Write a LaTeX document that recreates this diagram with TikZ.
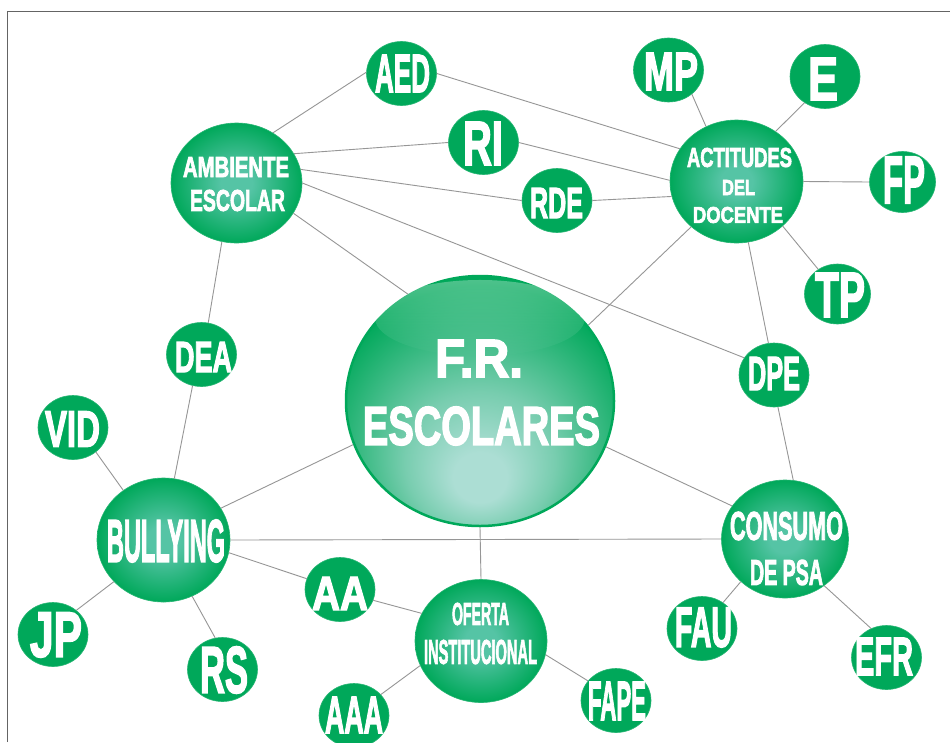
\documentclass[tikz,border=0pt]{standalone}
\usepackage{graphicx}
\usepackage{fontspec}
\newfontfamily\labfont{Liberation Sans Bold}[FakeBold=3]
\usetikzlibrary{shapes.geometric,fadings}
\definecolor{grn}{RGB}{0,168,90}
\definecolor{lite}{RGB}{85,196,165}
\definecolor{pale}{RGB}{172,222,212}
\definecolor{mint}{RGB}{120,205,175}
\definecolor{edgec}{RGB}{150,150,150}
\definecolor{framec}{RGB}{100,100,100}
\pgfdeclareradialshading{nodeshade}{\pgfpoint{0bp}{0bp}}{color(0bp)=(lite);color(6bp)=(lite);color(25bp)=(grn);color(50bp)=(grn)}
\pgfdeclareradialshading{ballshade}{\pgfpoint{0bp}{-17bp}}{color(0bp)=(pale);color(5bp)=(pale);color(14bp)=(mint);color(30bp)=(grn);color(50bp)=(grn)}
\newcommand\lb[3]{\resizebox{#1pt}{#2pt}{\labfont #3}}
\tikzset{
  sn/.style={ellipse, fill=grn, draw=grn!85!white, line width=0.6pt, minimum width=70pt, minimum height=64pt, inner sep=0pt},
  bn/.style={ellipse, shading=nodeshade, draw=grn!85!white, line width=0.6pt, minimum width=132pt, minimum height=122pt, inner sep=0pt},
  tx/.style={inner sep=0pt, text=white},
  ln/.style={draw=edgec, line width=0.9pt},
}
\begin{document}
\begin{tikzpicture}[x=1pt,y=-1pt]
\useasboundingbox (0,0) rectangle (950,742);
\fill[white] (0,0) rectangle (950,742);
\draw[framec, line width=1.5pt] (7.5,742) -- (7.5,11.5) -- (950,11.5);

% central ball
\node[ellipse, shading=ballshade, draw=grn, line width=2.5pt, minimum width=268pt, minimum height=250pt, inner sep=0pt] (C) at (480,401) {};
\fill[white, opacity=0.3, path fading=south] (480,318) ellipse (105 and 38);
\node[tx] (tC1) at (479,358.5) {\lb{88}{37}{F.R.}};
\node[tx] (tC2) at (481.5,426) {\lb{237}{38}{ESCOLARES}};

% big nodes
\node[bn, minimum width=131pt, minimum height=120pt] (AMB) at (236.5,183) {};
\node[tx] (tAMB1) at (236,167) {\lb{106}{20}{AMBIENTE}};
\node[tx] (tAMB2) at (237.5,200.5) {\lb{95}{21}{ESCOLAR}};

\node[bn, minimum width=133pt, minimum height=123pt] (ACT) at (736.5,181.5) {};
\node[tx] (tACT1) at (739.5,157.5) {\lb{105}{19}{ACTITUDES}};
\node[tx] (tACT2) at (738.5,187.5) {\lb{33}{15}{DEL}};
\node[tx] (tACT3) at (738,215) {\lb{90}{16}{DOCENTE}};

\node[bn, minimum width=133pt, minimum height=124pt] (BUL) at (163.5,540) {};
\node[tx] (tBUL) at (166,541) {\lb{118}{42}{BULLYING}};

\node[bn, minimum width=127pt, minimum height=118pt] (CON) at (785,539) {};
\node[tx] (tCON1) at (786.5,526) {\lb{113}{28}{CONSUMO}};
\node[tx] (tCON2) at (786.5,572.5) {\lb{73}{25}{DE PSA}};

\node[bn, minimum width=132pt, minimum height=123pt] (OFE) at (481,641) {};
\node[tx] (tOFE1) at (480.5,614) {\lb{57}{22}{OFERTA}};
\node[tx] (tOFE2) at (480.5,652) {\lb{113}{24}{INSTITUCIONAL}};

% small nodes
\node[sn] (AED) at (401.5,73.5) {};
\node[tx] (tAED) at (402.5,73.5) {\lb{55}{37}{AED}};
\node[sn] (RI) at (483.5,142.5) {};
\node[tx] (tRI) at (483,143.5) {\lb{40}{43}{RI}};
\node[sn] (RDE) at (557,200.5) {};
\node[tx] (tRDE) at (556.5,203) {\lb{53}{30}{RDE}};
\node[sn] (MP) at (668.5,70) {};
\node[tx] (tMP) at (671,71.5) {\lb{54}{37}{MP}};
\node[sn] (E) at (825,76.5) {};
\node[tx] (tE) at (823,79) {\lb{30}{42}{E}};
\node[sn, minimum width=66pt, minimum height=61pt] (FP) at (902.5,182) {};
\node[tx] (tFP) at (904,180) {\lb{42}{46}{FP}};
\node[sn, minimum width=66pt, minimum height=60pt] (TP) at (837.5,294) {};
\node[tx] (tTP) at (840,295) {\lb{50}{44}{TP}};
\node[sn] (DPE) at (774,375) {};
\node[tx] (tDPE) at (774,373.5) {\lb{52}{33}{DPE}};
\node[sn] (DEA) at (201.5,354.5) {};
\node[tx] (tDEA) at (203.5,357) {\lb{57}{30}{DEA}};
\node[sn] (VID) at (73,427.5) {};
\node[tx] (tVID) at (72.5,429) {\lb{55}{35}{VID}};
\node[sn] (JP) at (53,634.5) {};
\node[tx] (tJP) at (56,635) {\lb{52}{44}{JP}};
\node[sn] (RS) at (222.5,669.5) {};
\node[tx] (tRS) at (224,670) {\lb{48}{46}{RS}};
\node[sn] (AA) at (340,589.5) {};
\node[tx] (tAA) at (340,593.5) {\lb{56}{33}{AA}};
\node[sn] (AAA) at (354,715.5) {};
\node[tx] (tAAA) at (354,715) {\lb{58}{36}{AAA}};
\node[sn] (FAPE) at (616,700.5) {};
\node[tx] (tFAPE) at (617,701) {\lb{58}{38}{FAPE}};
\node[sn] (FAU) at (702,628.5) {};
\node[tx] (tFAU) at (703.5,627.5) {\lb{57}{39}{FAU}};
\node[sn] (EFR) at (886.5,657.5) {};
\node[tx] (tEFR) at (884,656.5) {\lb{58}{37}{EFR}};

% connectors
\draw[ln] (AMB.54) -- (AED.178);
\draw[ln] (AED.0) -- (ACT.150);
\draw[ln] (AMB.27) -- (RI.180);
\draw[ln] (RI.0) -- (ACT.179);
\draw[ln] (AMB.12) -- (RDE.180);
\draw[ln] (RDE.0) -- (ACT.193);
\draw[ln] (AMB.0) -- (DPE.150);
\draw[ln] (AMB.-28) -- (C.124);
\draw[ln] (AMB.256) -- (DEA.78);
\draw[ln] (DEA.254) -- (BUL.80);
\draw[ln] (ACT.119) -- (MP.314);
\draw[ln] (ACT.52) -- (E.232);
\draw[ln] (ACT.0) -- (FP.180);
\draw[ln] (ACT.-44) -- (TP.128);
\draw[ln] (ACT.281) -- (DPE.100);
\draw[ln] (ACT.225) -- (C.35);
\draw[ln] (DPE.277) -- (CON.82);
\draw[ln] (C.-20) -- (CON.148);
\draw[ln] (BUL.0) -- (CON.180);
\draw[ln] (C.-90) -- (OFE.90);
\draw[ln] (BUL.29) -- (C.199);
\draw[ln] (BUL.129) -- (VID.313);
\draw[ln] (BUL.220) -- (JP.46);
\draw[ln] (BUL.297) -- (RS.103);
\draw[ln] (BUL.-11) -- (AA.162);
\draw[ln] (AA.-18) -- (OFE.155);
\draw[ln] (OFE.202) -- (AAA.38);
\draw[ln] (OFE.-12) -- (FAPE.145);
\draw[ln] (CON.224) -- (FAU.51);
\draw[ln] (CON.-50) -- (EFR.118);
\end{tikzpicture}
\end{document}
